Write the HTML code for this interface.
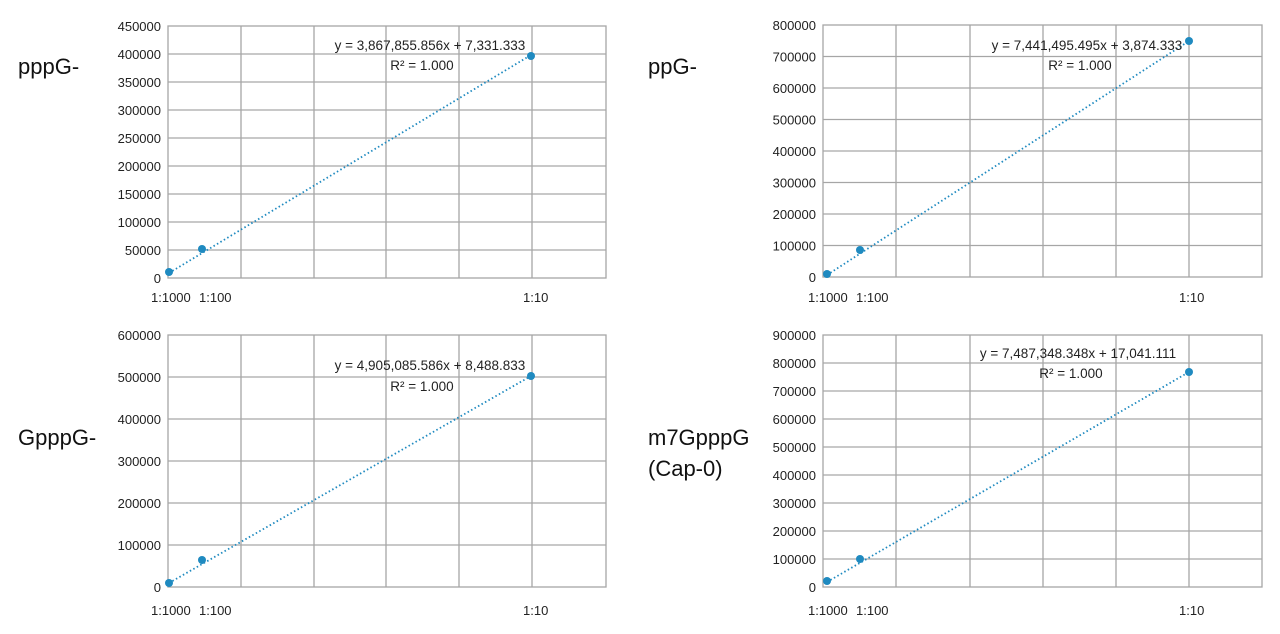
<!DOCTYPE html>
<html><head><meta charset="utf-8"><style>
html,body{margin:0;padding:0;background:#fff;}
svg{display:block;font-family:"Liberation Sans",Arial,sans-serif;}
</style></head><body>
<svg width="1280" height="634" viewBox="0 0 1280 634" xmlns="http://www.w3.org/2000/svg">
<g stroke="#a6a6a6" stroke-width="1.3" fill="none">
<rect x="168" y="26" width="438" height="252"/>
<path d="M241 26V278M314 26V278M386 26V278M459 26V278M532 26V278"/>
<path d="M168 54H606M168 82H606M168 110H606M168 138H606M168 166H606M168 194H606M168 222H606M168 250H606"/>
<rect x="823" y="25" width="439" height="252"/>
<path d="M896 25V277M970 25V277M1043 25V277M1116 25V277M1189 25V277"/>
<path d="M823 56.5H1262M823 88H1262M823 119.5H1262M823 151H1262M823 182.5H1262M823 214H1262M823 245.5H1262"/>
<rect x="168" y="335" width="438" height="252"/>
<path d="M241 335V587M314 335V587M386 335V587M459 335V587M532 335V587"/>
<path d="M168 377H606M168 419H606M168 461H606M168 503H606M168 545H606"/>
<rect x="823" y="335" width="439" height="252"/>
<path d="M896 335V587M970 335V587M1043 335V587M1116 335V587M1189 335V587"/>
<path d="M823 363H1262M823 391H1262M823 419H1262M823 447H1262M823 475H1262M823 503H1262M823 531H1262M823 559H1262"/>
</g>
<g stroke="#1f8ac0" stroke-width="1.8" stroke-dasharray="1.5 2.5" fill="none">
<path d="M169 273L531 55"/>
<path d="M827 275L1189 41"/>
<path d="M169 583L531 376"/>
<path d="M827 582L1189 372"/>
</g>
<g fill="#1f8ac0">
<circle cx="169" cy="272" r="4"/><circle cx="202" cy="249" r="4"/><circle cx="531" cy="56" r="4"/>
<circle cx="827" cy="274" r="4"/><circle cx="860" cy="250" r="4"/><circle cx="1189" cy="41" r="4"/>
<circle cx="169" cy="583" r="4"/><circle cx="202" cy="560" r="4"/><circle cx="531" cy="376" r="4"/>
<circle cx="827" cy="581" r="4"/><circle cx="860" cy="559" r="4"/><circle cx="1189" cy="372" r="4"/>
</g>
<g fill="#222" font-size="13" text-anchor="end">
<text x="161" y="31">450000</text><text x="161" y="59">400000</text><text x="161" y="87">350000</text><text x="161" y="115">300000</text><text x="161" y="143">250000</text><text x="161" y="171">200000</text><text x="161" y="199">150000</text><text x="161" y="227">100000</text><text x="161" y="255">50000</text><text x="161" y="283">0</text>
<text x="816" y="30">800000</text><text x="816" y="61.5">700000</text><text x="816" y="93">600000</text><text x="816" y="124.5">500000</text><text x="816" y="156">400000</text><text x="816" y="187.5">300000</text><text x="816" y="219">200000</text><text x="816" y="250.5">100000</text><text x="816" y="282">0</text>
<text x="161" y="340">600000</text><text x="161" y="382">500000</text><text x="161" y="424">400000</text><text x="161" y="466">300000</text><text x="161" y="508">200000</text><text x="161" y="550">100000</text><text x="161" y="592">0</text>
<text x="816" y="340">900000</text><text x="816" y="368">800000</text><text x="816" y="396">700000</text><text x="816" y="424">600000</text><text x="816" y="452">500000</text><text x="816" y="480">400000</text><text x="816" y="508">300000</text><text x="816" y="536">200000</text><text x="816" y="564">100000</text><text x="816" y="592">0</text>
</g>
<g fill="#222" font-size="13">
<text x="151" y="302">1:1000</text><text x="199" y="302">1:100</text><text x="523" y="302">1:10</text>
<text x="808" y="302">1:1000</text><text x="856" y="302">1:100</text><text x="1179" y="302">1:10</text>
<text x="151" y="615">1:1000</text><text x="199" y="615">1:100</text><text x="523" y="615">1:10</text>
<text x="808" y="615">1:1000</text><text x="856" y="615">1:100</text><text x="1179" y="615">1:10</text>
</g>
<g fill="#222" font-size="13.5" text-anchor="middle">
<text x="430" y="50">y = 3,867,855.856x + 7,331.333</text><text x="422" y="70">R² = 1.000</text>
<text x="1087" y="50">y = 7,441,495.495x + 3,874.333</text><text x="1080" y="70">R² = 1.000</text>
<text x="430" y="370">y = 4,905,085.586x + 8,488.833</text><text x="422" y="391">R² = 1.000</text>
<text x="1078" y="358">y = 7,487,348.348x + 17,041.111</text><text x="1071" y="378">R² = 1.000</text>
</g>
<g fill="#111" font-size="22">
<text x="18" y="74">pppG-</text>
<text x="648" y="74">ppG-</text>
<text x="18" y="445">GpppG-</text>
<text x="648" y="445">m7GpppG</text>
<text x="648" y="476">(Cap-0)</text>
</g>
</svg>
</body></html>
